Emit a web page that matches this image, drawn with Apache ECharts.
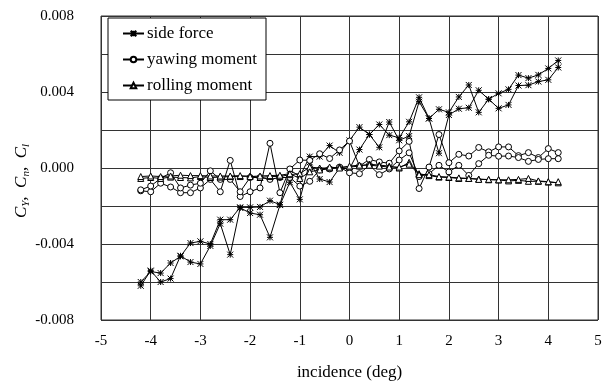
<!DOCTYPE html>
<html>
<head>
<meta charset="utf-8">
<script src="https://cdn.jsdelivr.net/npm/echarts@6/dist/echarts.min.js"></script>
<style>
  html, body { margin: 0; padding: 0; background: #fff; }
  #chart { width: 607px; height: 383px; }
</style>
</head>
<body>
<div id="chart"></div>
<script>
// Incidence sweep points (deg)
const incidence = [-4.2, -4.0, -3.8, -3.6, -3.4, -3.2, -3.0, -2.8, -2.6, -2.4, -2.2,
  -2.0, -1.8, -1.6, -1.4, -1.2, -1.0, -0.8, -0.6, -0.4, -0.2, 0.0, 0.2, 0.4, 0.6,
  0.8, 1.0, 1.2, 1.4, 1.6, 1.8, 2.0, 2.2, 2.4, 2.6, 2.8, 3.0, 3.2, 3.4, 3.6, 3.8, 4.0, 4.2];

// Side force coefficient, increasing and decreasing sweeps
const sideForceUp = [-0.00600, -0.00545, -0.00553, -0.00500, -0.00465, -0.00395, -0.00386,
  -0.00400, -0.00272, -0.00272, -0.00207, -0.00207, -0.00205, -0.00172, -0.00193, -0.00010,
  -0.00045, 0.00060, 0.00060, 0.00118, 0.00080, 0.00145, 0.00215, 0.00176, 0.00229, 0.00173,
  0.00159, 0.00243, 0.00372, 0.00261, 0.00309, 0.00293, 0.00374, 0.00437, 0.00293, 0.00362,
  0.00393, 0.00414, 0.00489, 0.00473, 0.00490, 0.00524, 0.00566];
const sideForceDown = [-0.00620, -0.00540, -0.00600, -0.00582, -0.00462, -0.00495, -0.00505,
  -0.00410, -0.00293, -0.00456, -0.00210, -0.00237, -0.00246, -0.00365, -0.00195, -0.00075,
  -0.00165, 0.00030, -0.00058, -0.00074, 0.00000, -0.00005, 0.00097, 0.00176, 0.00109, 0.00242,
  0.00146, 0.00168, 0.00349, 0.00261, 0.00078, 0.00279, 0.00312, 0.00317, 0.00409, 0.00362,
  0.00314, 0.00332, 0.00434, 0.00436, 0.00455, 0.00464, 0.00529];

// Yawing moment coefficient
const yawUp = [-0.00120, -0.00125, -0.00080, -0.00100, -0.00130, -0.00130, -0.00105, -0.00060,
  -0.00125, 0.00040, -0.00150, -0.00125, -0.00105, 0.00130, -0.00130, -0.00005, 0.00042, 0.00040,
  0.00075, 0.00050, 0.00095, 0.00142, 0.00010, 0.00045, 0.00032, 0.00025, 0.00090, 0.00140,
  -0.00108, 0.00005, 0.00176, 0.00028, 0.00072, 0.00063, 0.00108, 0.00085, 0.00111, 0.00111,
  0.00065, 0.00081, 0.00055, 0.00102, 0.00081];
const yawDown = [-0.00115, -0.00095, -0.00055, -0.00025, -0.00105, -0.00090, -0.00080, -0.00015,
  -0.00060, -0.00060, -0.00125, -0.00050, -0.00050, -0.00060, -0.00050, -0.00050, -0.00095, -0.00070,
  -0.00010, -0.00005, 0.00005, -0.00025, -0.00030, 0.00015, -0.00035, -0.00005, 0.00042, 0.00080,
  -0.00045, -0.00030, 0.00014, -0.00021, 0.00014, -0.00039, 0.00023, 0.00067, 0.00062, 0.00063,
  0.00055, 0.00035, 0.00045, 0.00049, 0.00049];

// Rolling moment coefficient
const rollUp = [-0.00055, -0.00050, -0.00055, -0.00048, -0.00050, -0.00052, -0.00045, -0.00050,
  -0.00048, -0.00045, -0.00045, -0.00042, -0.00050, -0.00045, -0.00045, -0.00035, -0.00030, 0.00005,
  0.00000, 0.00000, 0.00005, 0.00005, 0.00010, 0.00020, 0.00015, 0.00010, 0.00000, 0.00030,
  -0.00030, -0.00040, -0.00048, -0.00050, -0.00055, -0.00055, -0.00058, -0.00062, -0.00063, -0.00068,
  -0.00065, -0.00070, -0.00070, -0.00074, -0.00078];
const rollDown = [-0.00045, -0.00042, -0.00045, -0.00042, -0.00038, -0.00040, -0.00040, -0.00042,
  -0.00042, -0.00042, -0.00040, -0.00045, -0.00042, -0.00040, -0.00038, -0.00030, -0.00055, -0.00020,
  -0.00010, 0.00005, 0.00000, 0.00010, 0.00015, 0.00015, 0.00010, 0.00005, 0.00005, 0.00020,
  -0.00035, -0.00035, -0.00045, -0.00048, -0.00052, -0.00055, -0.00060, -0.00060, -0.00062, -0.00062,
  -0.00060, -0.00055, -0.00068, -0.00072, -0.00072];

const yTicks = [-0.008, -0.004, 0.000, 0.004, 0.008];
const xTicks = [-5, -4, -3, -2, -1, 0, 1, 2, 3, 4, 5];

// Forward sweep followed by the return sweep, drawn as one continuous loop
function sweepLoop(up, down) {
  const fwd = incidence.map((x, i) => [x, up[i]]);
  const back = incidence.map((x, i) => [x, down[i]]).reverse();
  return fwd.concat(back);
}

const FONT = '"Liberation Serif", "DejaVu Serif", serif';
const asterisk = 'path://M0,0L10,10M10,0L0,10M5,0L5,10M0,5L10,5';

const chart = echarts.init(document.getElementById('chart'), null, { renderer: 'canvas' });

const baseLine = { color: '#000', width: 1 };

chart.setOption({
  animation: false,
  backgroundColor: '#fff',
  grid: {
    left: 101, right: 9, top: 16, bottom: 63,
    outerBoundsMode: 'none',
    show: true, borderColor: '#333', borderWidth: 1
  },
  legend: {
    orient: 'vertical',
    left: 108, top: 18,
    padding: [7, 9, 6, 14],
    itemGap: 9,
    itemWidth: 21,
    itemHeight: 7,
    backgroundColor: '#fff',
    borderColor: '#000',
    borderWidth: 1,
    borderRadius: 0,
    textStyle: { fontFamily: FONT, fontSize: 17, color: '#000', padding: [0, 0, 0, -2] },
    data: ['side force', 'yawing moment', 'rolling moment']
  },
  xAxis: {
    type: 'value',
    min: xTicks[0], max: xTicks[xTicks.length - 1], interval: 1,
    axisLine: { show: false, onZero: false },
    axisTick: { show: false },
    splitLine: { show: true, lineStyle: { color: '#333', width: 1 } },
    axisLabel: { fontFamily: FONT, fontSize: 15, color: '#000', margin: 14 },
    name: 'incidence (deg)',
    nameLocation: 'middle',
    nameGap: 44,
    nameTextStyle: { fontFamily: FONT, fontSize: 17, color: '#000' }
  },
  yAxis: {
    type: 'value',
    min: yTicks[0], max: yTicks[yTicks.length - 1], interval: 0.002,
    axisLine: { show: false },
    axisTick: { show: false },
    splitLine: { show: true, lineStyle: { color: '#333', width: 1 } },
    axisLabel: {
      fontFamily: FONT, fontSize: 15, color: '#000', margin: 27,
      formatter: v => {
        const hit = yTicks.find(t => Math.abs(t - v) < 1e-9);
        return hit === undefined ? '' : hit.toFixed(3);
      }
    }
  },
  graphic: [{
    type: 'text',
    x: 22, y: 181,
    rotation: Math.PI / 2,
    style: {
      text: '{c|C}{s|Y}{c|,  C}{s|n}{c|,  C}{s|l}',
      align: 'center',
      verticalAlign: 'middle',
      rich: {
        c: { fontFamily: FONT, fontStyle: 'italic', fontSize: 17, fill: '#000' },
        s: { fontFamily: FONT, fontStyle: 'italic', fontSize: 11, fill: '#000', verticalAlign: 'bottom', padding: [8, 0, 0, 0] }
      }
    }
  }],
  series: [
    {
      name: 'side force',
      type: 'line',
      data: sweepLoop(sideForceUp, sideForceDown),
      symbol: asterisk,
      symbolSize: 6,
      lineStyle: baseLine,
      itemStyle: { color: '#000', borderColor: '#000', borderWidth: 1 },
      z: 3
    },
    {
      name: 'yawing moment',
      type: 'line',
      data: sweepLoop(yawUp, yawDown),
      symbol: 'circle',
      symbolSize: 6,
      lineStyle: baseLine,
      itemStyle: { color: '#fff', borderColor: '#000', borderWidth: 1 },
      z: 4
    },
    {
      name: 'rolling moment',
      type: 'line',
      data: sweepLoop(rollUp, rollDown),
      symbol: 'triangle',
      symbolSize: 6,
      lineStyle: baseLine,
      itemStyle: { color: '#fff', borderColor: '#000', borderWidth: 1 },
      z: 5
    }
  ]
});
</script>
</body>
</html>
